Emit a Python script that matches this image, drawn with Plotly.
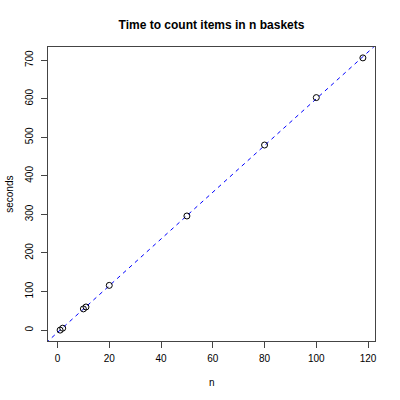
import numpy as np
import plotly.graph_objects as go

# baskets counted and time taken
n_baskets = [1, 2, 10, 11, 20, 50, 80, 100, 118]
seconds = [0, 5, 55, 60, 116, 296, 480, 603, 706]

x_ticks = [0, 20, 40, 60, 80, 100, 120]
y_ticks = [0, 100, 200, 300, 400, 500, 600, 700]


def r_range(values):
    # R pads the axis range by 4% on each side
    lo, hi = min(values), max(values)
    pad = (hi - lo) * 0.04
    return [lo - pad, hi + pad]


x_range = r_range(n_baskets)
y_range = r_range(seconds)

# least squares line, like abline(lm(...))
slope, intercept = np.polyfit(n_baskets, seconds, 1)
line_x = [x_range[0] - 10, x_range[1] + 10]
line_y = [intercept + slope * v for v in line_x]

fig = go.Figure()
fig.add_trace(go.Scatter(
    x=line_x, y=line_y, mode="lines",
    line=dict(color="blue", width=1, dash="4px,4px"),
    hoverinfo="skip",
))
fig.add_trace(go.Scatter(
    x=n_baskets, y=seconds, mode="markers",
    marker=dict(symbol="circle-open", size=6, color="black", line=dict(width=1)),
))

axis_style = dict(
    showgrid=False, zeroline=False, automargin=False,
    showline=True, mirror=True, linecolor="#444", linewidth=1,
    ticks="outside", ticklen=6, tickcolor="#444",
    tickfont=dict(size=10, color="black"),
)

fig.update_layout(
    width=400, height=400,
    margin=dict(l=48, r=25, t=47, b=59),
    paper_bgcolor="white", plot_bgcolor="white",
    showlegend=False,
    font=dict(family="Liberation Sans, Arial, sans-serif", color="black"),
    title=dict(text="<b>Time to count items in n baskets</b>", xref="paper", x=0.5, xanchor="center",
               y=0.937, yanchor="middle", font=dict(size=12)),
    xaxis=dict(range=x_range, tickvals=x_ticks, ticklabelstandoff=2, **axis_style),
    yaxis=dict(range=y_range, tickvals=y_ticks, tickangle=-90, ticklabelstandoff=4, **axis_style),
)

# axis titles placed like R's mtext lines
fig.add_annotation(text="n", xref="paper", yref="paper", x=0.5, y=-0.141,
                   xanchor="center", yanchor="middle", showarrow=False, font=dict(size=10))
fig.add_annotation(text="seconds", xref="paper", yref="paper", x=-0.12, y=0.5,
                   textangle=-90, xanchor="center", yanchor="middle", showarrow=False,
                   font=dict(size=10))

# drop the default body margin so the figure sits at the window corner
fig.write_html("out.html", config={"displayModeBar": False},
               post_script="document.body.style.margin = '0';")
